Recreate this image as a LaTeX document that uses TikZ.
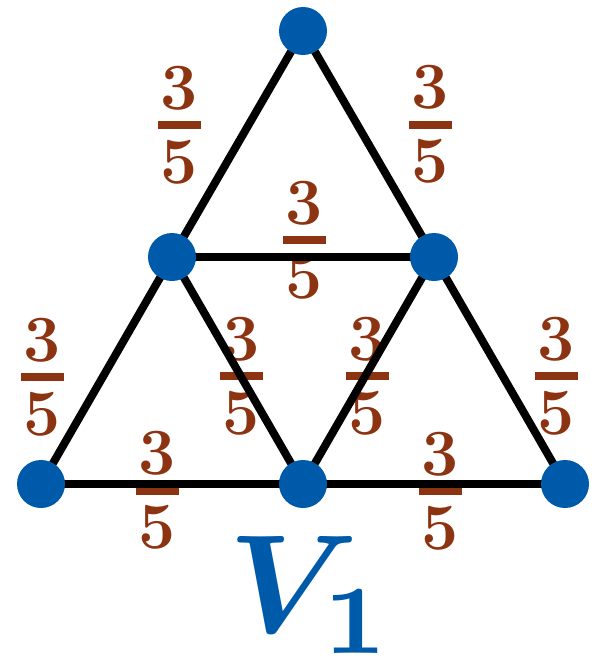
\documentclass[tikz,border=0pt]{standalone}
\usepackage{fontspec}
\definecolor{lblbrown}{RGB}{140,52,18}
\definecolor{nodeblue}{RGB}{0,90,170}
\newcommand{\myfrac}{\vbox{\hsize=43pt\fontsize{66}{70}\selectfont\bfseries
  \hbox to 43pt{\hss 3\hss}\kern11pt\hrule height 8pt\kern11pt\hbox to 43pt{\hss 5\hss}}}
\newcommand{\vlabel}{{\boldmath$V_1$}}
\tikzset{
  vert/.style={circle, fill=nodeblue, minimum size=48pt, inner sep=0pt},
  edge/.style={line width=8pt, black},
  weight/.style={inner sep=0pt, text=lblbrown, anchor=center},
  biglabel/.style={anchor=base, inner sep=0pt, text=nodeblue, scale=14},
}
\begin{document}
\begin{tikzpicture}[x=1pt,y=-1pt]
\useasboundingbox (0,0) rectangle (596,659);
% weights
\node[weight] (w1) at (179,125) {\color{lblbrown}\myfrac};
\node[weight] (w2) at (430.5,124.5) {\color{lblbrown}\myfrac};
\node[weight] (w3) at (304.5,240) {\color{lblbrown}\myfrac};
\node[weight] (w4) at (42.5,377) {\color{lblbrown}\myfrac};
\node[weight] (w5) at (241.5,376) {\color{lblbrown}\myfrac};
\node[weight] (w6) at (367.5,376) {\color{lblbrown}\myfrac};
\node[weight] (w7) at (556,376) {\color{lblbrown}\myfrac};
\node[weight] (w8) at (157.5,490.5) {\color{lblbrown}\myfrac};
\node[weight] (w9) at (440.5,491) {\color{lblbrown}\myfrac};
% vertex coordinates
\coordinate (t) at (303,31);
\coordinate (ml) at (172,257);
\coordinate (mr) at (434,257);
\coordinate (bl) at (41,484);
\coordinate (bm) at (303,484);
\coordinate (br) at (565,484);
% edges
\draw[edge] (t) -- (ml);
\draw[edge] (t) -- (mr);
\draw[edge] (ml) -- (mr);
\draw[edge] (ml) -- (bl);
\draw[edge] (ml) -- (bm);
\draw[edge] (mr) -- (bm);
\draw[edge] (mr) -- (br);
\draw[edge] (bl) -- (bm);
\draw[edge] (bm) -- (br);
% vertices
\node[vert] (nt) at (t) {};
\node[vert] (nml) at (ml) {};
\node[vert] (nmr) at (mr) {};
\node[vert] (nbl) at (bl) {};
\node[vert] (nbm) at (bm) {};
\node[vert] (nbr) at (br) {};
% label
\node[biglabel] (lab) at (311,632) {\vlabel};
\end{tikzpicture}
\end{document}
